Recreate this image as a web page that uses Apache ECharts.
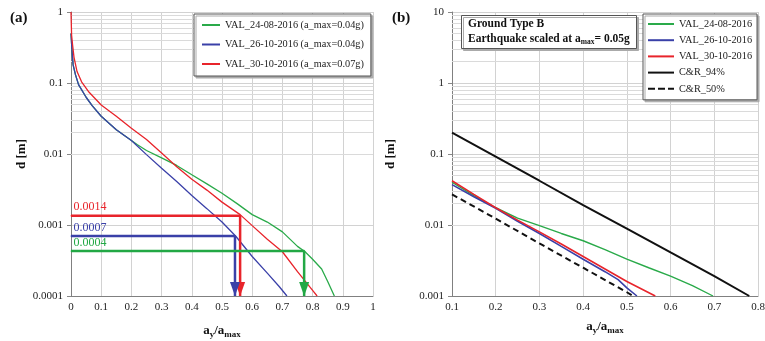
<!DOCTYPE html>
<html>
<head>
<meta charset="utf-8" />
<script src="https://cdn.jsdelivr.net/npm/echarts@6/dist/echarts.min.js"></script>
<style>
  body { margin: 0; background: #fff; }
  #main { width: 765px; height: 341px; }
</style>
</head>
<body>
<div id="main"></div>
<script>
  var FONT = '"Liberation Serif", "DejaVu Serif", serif';

  // panel (a) - yield acceleration ratio vs displacement
  var a2408X = [0, 0.003, 0.007, 0.015, 0.025, 0.05, 0.07, 0.1, 0.15, 0.2, 0.22, 0.25, 0.3, 0.35, 0.4, 0.45, 0.5, 0.55, 0.6, 0.65, 0.7, 0.75, 0.775, 0.8, 0.83, 0.85, 0.872];
  var a2408D = [0.5, 0.3, 0.18, 0.13, 0.095, 0.063, 0.048, 0.034, 0.022, 0.0155, 0.0135, 0.0112, 0.0088, 0.0069, 0.0051, 0.0038, 0.0028, 0.002, 0.0014, 0.0011, 0.0008, 0.0005, 0.00042, 0.00033, 0.00024, 0.00016, 0.0001];
  var a2610X = [0, 0.003, 0.007, 0.015, 0.025, 0.05, 0.07, 0.1, 0.15, 0.2, 0.25, 0.3, 0.35, 0.4, 0.45, 0.5, 0.545, 0.6, 0.65, 0.69, 0.715];
  var a2610D = [0.5, 0.3, 0.18, 0.13, 0.095, 0.063, 0.048, 0.034, 0.022, 0.0155, 0.0098, 0.0063, 0.0041, 0.0026, 0.0017, 0.0011, 0.0007, 0.00036, 0.00021, 0.000135, 0.0001];
  var a3010X = [0, 0.002, 0.005, 0.01, 0.02, 0.035, 0.06, 0.1, 0.15, 0.2, 0.25, 0.3, 0.35, 0.4, 0.45, 0.5, 0.56, 0.6, 0.65, 0.7, 0.75, 0.8, 0.815];
  var a3010D = [1, 0.47, 0.35, 0.23, 0.145, 0.104, 0.074, 0.049, 0.034, 0.023, 0.016, 0.0103, 0.0066, 0.0044, 0.0031, 0.0021, 0.0014, 0.00098, 0.00063, 0.00042, 0.00022, 0.00012, 0.0001];

  // read-off values marked with arrows in (a)
  var annoLabels = ['0.0014', '0.0007', '0.0004'];
  var annoD = [0.00135, 0.0007, 0.00043];
  var annoX = [0.56, 0.543, 0.772];
  var annoColors = ['#e8242b', '#3a40a8', '#22a845'];

  // panel (b)
  var b2408X = [0.1, 0.15, 0.2, 0.25, 0.3, 0.35, 0.4, 0.45, 0.5, 0.55, 0.6, 0.65, 0.697];
  var b2408D = [0.04, 0.026, 0.0175, 0.0125, 0.0098, 0.0076, 0.006, 0.0045, 0.0033, 0.0025, 0.0019, 0.0014, 0.001];
  var b2610X = [0.1, 0.15, 0.2, 0.25, 0.3, 0.35, 0.4, 0.45, 0.48, 0.5, 0.523];
  var b2610D = [0.037, 0.025, 0.0172, 0.0113, 0.0076, 0.005, 0.0033, 0.0022, 0.0017, 0.0013, 0.001];
  var b3010X = [0.1, 0.15, 0.2, 0.25, 0.3, 0.35, 0.4, 0.45, 0.5, 0.565];
  var b3010D = [0.042, 0.027, 0.0175, 0.0117, 0.008, 0.0054, 0.0036, 0.0024, 0.0016, 0.001];
  var cr94X = [0.1, 0.2, 0.3, 0.4, 0.5, 0.6, 0.7, 0.78];
  var cr94D = [0.2, 0.092, 0.042, 0.019, 0.0089, 0.0041, 0.0019, 0.001];
  var cr50X = [0.1, 0.2, 0.3, 0.4, 0.5, 0.514];
  var cr50D = [0.027, 0.0123, 0.0055, 0.0025, 0.00113, 0.001];

  // tick labels
  var yLabelsA = ['0.0001', '0.001', '0.01', '0.1', '1'];
  var yLabelsB = ['0.001', '0.01', '0.1', '1', '10'];
  var minorSteps = [2, 3, 4, 5, 6, 7, 8, 9];

  var GREEN = '#2aaa4a', BLUE = '#3a40a8', RED = '#e8242b';
  var DASH_ICON = 'path://M0,0h7v2h-7z M10,0h7v2h-7z M20,0h6v2h-6z';

  function zip(xs, ys) {
    return xs.map(function (x, i) { return [x, ys[i]]; });
  }

  function minorLines(lo, hi) {
    var out = [];
    for (var p = lo; p < hi; p++) {
      minorSteps.forEach(function (m) { out.push({ yAxis: m * Math.pow(10, p) }); });
    }
    return out;
  }

  var subName = {
    i: { fontFamily: FONT, fontWeight: 'bold', fontSize: 13, color: '#111' },
    sub: { fontFamily: FONT, fontWeight: 'bold', fontSize: 9, color: '#111', padding: [7, 0, 0, 0] }
  };

  function xAxisCfg(gi, min, max, gap) {
    return {
      type: 'value', gridIndex: gi, min: min, max: max, interval: 0.1,
      name: '{i|a}{sub|y}{i|/a}{sub|max}', nameLocation: 'middle', nameGap: gap,
      nameTextStyle: { rich: subName },
      axisLine: { lineStyle: { color: '#808080' } },
      axisTick: { show: false },
      axisLabel: { color: '#222', fontFamily: FONT, fontSize: 11, margin: 6 },
      splitLine: { lineStyle: { color: '#d2d2d2' } }
    };
  }

  function yAxisCfg(gi, min, max, labels, gap) {
    var lo = Math.round(Math.log10(min));
    return {
      type: 'log', logBase: 10, gridIndex: gi, min: min, max: max,
      name: 'd [m]', nameLocation: 'middle', nameGap: gap,
      nameTextStyle: { fontFamily: FONT, fontWeight: 'bold', fontSize: 13, color: '#111' },
      axisLine: { show: true, lineStyle: { color: '#808080' } },
      axisTick: { show: true, length: 4, lineStyle: { color: '#888' } },
      axisLabel: {
        color: '#222', fontFamily: FONT, fontSize: 11, margin: 8,
        formatter: function (v) { return labels[Math.round(Math.log10(v)) - lo]; }
      },
      splitLine: { lineStyle: { color: '#d2d2d2' } }
    };
  }

  function gridLines(gi, lo, hi) {
    return {
      type: 'line', xAxisIndex: gi, yAxisIndex: gi, data: [], z: 1, silent: true,
      markLine: {
        silent: true, symbol: 'none', z: 1, label: { show: false },
        lineStyle: { color: '#dadada', width: 1, type: 'solid' },
        emphasis: { disabled: true },
        data: minorLines(lo, hi)
      }
    };
  }

  function curve(name, gi, xs, ys, color, width, dash) {
    return {
      name: name, type: 'line', xAxisIndex: gi, yAxisIndex: gi,
      data: zip(xs, ys), symbol: 'none', smooth: false, z: 3,
      color: color,
      lineStyle: { color: color, width: width, type: dash || 'solid' }
    };
  }

  function arrow(i) {
    var c = annoColors[i];
    return {
      type: 'line', xAxisIndex: 0, yAxisIndex: 0, z: 4, silent: true,
      symbol: 'none', showSymbol: true, color: c,
      lineStyle: { color: c, width: 2.5 },
      data: [
        { value: [0, annoD[i]], symbol: 'circle', symbolSize: 1,
          label: { show: true, formatter: annoLabels[i], position: [3, -14], color: c, fontFamily: FONT, fontSize: 12 } },
        { value: [annoX[i], annoD[i]], symbol: 'none' },
        { value: [annoX[i], 0.0001], symbol: 'triangle', symbolRotate: 180, symbolSize: [10, 14], symbolOffset: [0, '-50%'],
          itemStyle: { color: c } }
      ]
    };
  }

  var namesA = ['VAL_24-08-2016 (a_max=0.04g)', 'VAL_26-10-2016 (a_max=0.04g)', 'VAL_30-10-2016 (a_max=0.07g)'];
  var namesB = ['VAL_24-08-2016', 'VAL_26-10-2016', 'VAL_30-10-2016', 'C&R_94%', 'C&R_50%'];

  var legendBase = {
    orient: 'vertical', backgroundColor: '#fff', borderColor: '#555', borderWidth: 1,
    shadowColor: '#aaa', shadowOffsetX: 2, shadowOffsetY: 2, shadowBlur: 0,
    icon: 'rect', itemHeight: 2, textStyle: { fontFamily: FONT, fontSize: 10.3, color: '#222' },
    selectedMode: false, z: 10
  };

  var chart = echarts.init(document.getElementById('main'), null, { renderer: 'canvas' });
  chart.setOption({
    animation: false,
    backgroundColor: '#fff',
    title: [
      { text: '(a)', left: 5, top: 6, textStyle: { fontFamily: FONT, fontWeight: 'bold', fontSize: 15, color: '#111' } },
      { text: '(b)', left: 387, top: 6, textStyle: { fontFamily: FONT, fontWeight: 'bold', fontSize: 15, color: '#111' } },
      {
        text: '{b|Ground Type B}\n{b|Earthquake scaled at a}{s|max}{b|= 0.05g}',
        left: 461, top: 14, padding: [3, 7, 2, 7], z: 10,
        backgroundColor: '#fff', borderColor: '#555', borderWidth: 1,
        shadowColor: '#aaa', shadowOffsetX: 2, shadowOffsetY: 2, shadowBlur: 0,
        textStyle: {
          rich: {
            b: { fontFamily: FONT, fontWeight: 'bold', fontSize: 11.5, color: '#111', lineHeight: 15 },
            s: { fontFamily: FONT, fontWeight: 'bold', fontSize: 7.5, color: '#111', lineHeight: 15, padding: [6, 0, 0, 0] }
          }
        }
      }
    ],
    legend: [
      Object.assign({}, legendBase, {
        data: namesA, left: 194, top: 14, itemWidth: 18, itemGap: 9.5, padding: [6, 7, 7, 8]
      }),
      Object.assign({}, legendBase, {
        data: namesB.slice(0, 4).concat([{ name: namesB[4], icon: DASH_ICON }]),
        left: 643, top: 14, itemWidth: 26, itemGap: 6.2, padding: [5, 5, 6, 5]
      })
    ],
    grid: [
      { left: 71, top: 12, width: 302, height: 284, outerBoundsMode: 'none' },
      { left: 452, top: 12, width: 306, height: 284, outerBoundsMode: 'none' }
    ],
    xAxis: [xAxisCfg(0, 0, 1, 27), xAxisCfg(1, 0.1, 0.8, 23)],
    yAxis: [yAxisCfg(0, 0.0001, 1, yLabelsA, 43), yAxisCfg(1, 0.001, 10, yLabelsB, 55)],
    series: [
      gridLines(0, -4, 0),
      gridLines(1, -3, 1),
      curve(namesA[0], 0, a2408X, a2408D, GREEN, 1.3),
      curve(namesA[1], 0, a2610X, a2610D, BLUE, 1.3),
      curve(namesA[2], 0, a3010X, a3010D, RED, 1.3),
      arrow(0), arrow(1), arrow(2),
      curve(namesB[0], 1, b2408X, b2408D, GREEN, 1.4),
      curve(namesB[1], 1, b2610X, b2610D, BLUE, 1.6),
      curve(namesB[2], 1, b3010X, b3010D, RED, 1.6),
      curve(namesB[3], 1, cr94X, cr94D, '#111', 2),
      curve(namesB[4], 1, cr50X, cr50D, '#111', 2, [6, 4])
    ]
  });
</script>
</body>
</html>
